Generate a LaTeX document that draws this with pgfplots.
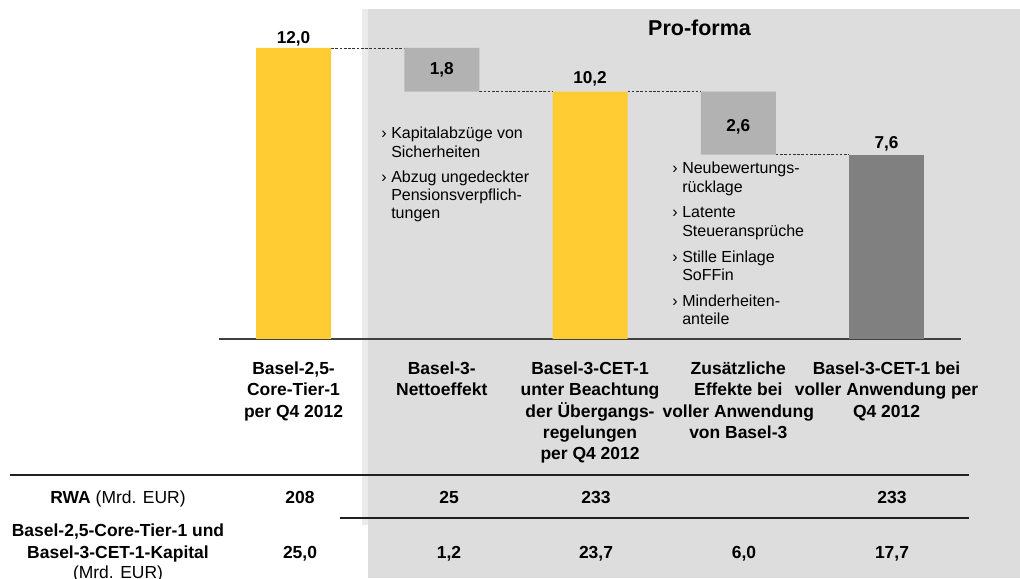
\documentclass[border=0pt]{standalone}
\usepackage{fontspec}
\setmainfont{Liberation Sans}
\usepackage{pgfplots}
\pgfplotsset{compat=1.18}
\definecolor{ygold}{HTML}{FFCC33}
\definecolor{panel}{HTML}{DDDDDD}
\definecolor{strip}{HTML}{EBEBEB}
\definecolor{boxgray}{HTML}{B2B2B2}
\definecolor{bargray}{HTML}{808080}
\definecolor{basecol}{HTML}{404040}
\definecolor{rulecol}{HTML}{202020}
\begin{document}
\begin{tikzpicture}[x=0.75pt,y=0.75pt,
  bul/.style={anchor=base west, inner sep=0, font=\fontsize{12}{14}\selectfont},
  tv/.style={anchor=base, inner sep=0, font=\fontsize{13.1}{16}\selectfont\bfseries},
  cat/.style={anchor=north, inner sep=0, align=center, font=\fontsize{13.1}{16}\selectfont\bfseries},
  bv/.style={anchor=base, inner sep=0, font=\fontsize{12.9}{15}\selectfont\bfseries}]
\useasboundingbox (0,0) rectangle (1020,578);
% background panel
\fill[panel] (368,0) rectangle (1020,578-9);
\fill[strip] (362,578-525) rectangle (368,578-9);
% title
\node[anchor=base, inner sep=0, font=\fontsize{16.1}{19}\selectfont\bfseries] at (699.5,578-36) {Pro-forma};
% table rules
\draw[line width=1.5pt, rulecol] (10,578-475) -- (969,578-475);
\draw[line width=1.5pt, rulecol] (340,578-518) -- (969,578-518);
% table rows
\node[anchor=base, inner sep=0, font=\fontsize{13.1}{16}\selectfont] at (118,578-503.5) {\textbf{RWA} (Mrd. EUR)};
\node[tv] at (118,578-537) {Basel-2,5-Core-Tier-1 und};
\node[tv] at (118,578-558) {Basel-3-CET-1-Kapital};
\node[anchor=base, inner sep=0, font=\fontsize{13.1}{16}\selectfont] at (118,578-578) {(Mrd. EUR)};
\node[tv] at (300,578-503.5) {208};
\node[tv] at (449,578-503.5) {25};
\node[tv] at (596,578-503.5) {233};
\node[tv] at (892,578-503.5) {233};
\node[tv] at (300,578-558.5) {25,0};
\node[tv] at (449,578-558.5) {1,2};
\node[tv] at (596,578-558.5) {23,7};
\node[tv] at (744,578-558.5) {6,0};
\node[tv] at (892,578-558.5) {17,7};
% bullet notes, group 1
\node[bul] at (381,578-139) {›};
\node[bul] at (391,578-139) {Kapitalabzüge von};
\node[bul] at (391,578-157.2) {Sicherheiten};
\node[bul] at (381,578-182.2) {›};
\node[bul] at (391,578-182.2) {Abzug ungedeckter};
\node[bul] at (391,578-200.5) {Pensionsverpflich-};
\node[bul] at (391,578-218.8) {tungen};
% bullet notes, group 2
\node[bul] at (672,578-173.8) {›};
\node[bul] at (682,578-173.8) {Neubewertungs-};
\node[bul] at (682,578-192.2) {rücklage};
\node[bul] at (672,578-217.8) {›};
\node[bul] at (682,578-217.8) {Latente};
\node[bul] at (682,578-236.2) {Steueransprüche};
\node[bul] at (672,578-262.2) {›};
\node[bul] at (682,578-262.2) {Stille Einlage};
\node[bul] at (682,578-280.5) {SoFFin};
\node[bul] at (672,578-306.2) {›};
\node[bul] at (682,578-306.2) {Minderheiten-};
\node[bul] at (682,578-324.8) {anteile};
\begin{axis}[at={(164.55pt,179.25pt)}, anchor=south west, scale only axis,
  width=555.94pt, height=218.25pt, xmin=-0.5, xmax=4.5, ymin=0, ymax=12,
  hide axis, clip=false, ybar stacked, bar width=56.25pt]
\addplot[draw=none, fill=none] coordinates {(0,0) (1,10.2) (2,0) (3,7.6) (4,0)};
\addplot[draw=none, fill=ygold] coordinates {(0,12) (1,0) (2,10.2) (3,0) (4,0)};
\addplot[draw=none, fill=boxgray] coordinates {(0,0) (1,1.8) (2,0) (3,2.6) (4,0)};
\addplot[draw=none, fill=bargray] coordinates {(0,0) (1,0) (2,0) (3,0) (4,7.6)};
% baseline
\draw[line width=1.5pt, basecol] (axis cs:-0.5,0) -- (axis cs:4.5,0);
% connectors
\draw[line width=0.6pt, black!80, dash pattern=on 2pt off 1.2pt] (axis cs:0.253,12) -- (axis cs:0.747,12);
\draw[line width=0.6pt, black!80, dash pattern=on 2pt off 1.2pt] (axis cs:1.253,10.2) -- (axis cs:1.747,10.2);
\draw[line width=0.6pt, black!80, dash pattern=on 2pt off 1.2pt] (axis cs:2.253,10.2) -- (axis cs:2.747,10.2);
\draw[line width=0.6pt, black!80, dash pattern=on 2pt off 1.2pt] (axis cs:3.253,7.6) -- (axis cs:3.747,7.6);
\coordinate (v0) at (axis cs:0,12);
\coordinate (v1) at (axis cs:1,10.2);
\coordinate (v2) at (axis cs:2,10.2);
\coordinate (v3) at (axis cs:3,7.6);
\coordinate (v4) at (axis cs:4,7.6);
% category labels
\node[cat, yshift=-16.9pt] at (axis cs:0,0) {Basel-2,5-\\Core-Tier-1\\per Q4 2012};
\node[cat, yshift=-16.9pt] at (axis cs:1,0) {Basel-3-\\Nettoeffekt};
\node[cat, yshift=-16.9pt] at (axis cs:2,0) {Basel-3-CET-1\\unter Beachtung\\der Übergangs-\\regelungen\\per Q4 2012};
\node[cat, yshift=-16.9pt] at (axis cs:3,0) {Zusätzliche\\Effekte bei\\voller Anwendung\\von Basel-3};
\node[cat, yshift=-16.9pt] at (axis cs:4,0) {Basel-3-CET-1 bei\\voller Anwendung per\\Q4 2012};
\end{axis}
% bar values (drawn on top of the bars)
\node[bv, yshift=3.2pt] at (v0) {12,0};
\node[bv, yshift=12.5pt] at (v1) {1,8};
\node[bv, yshift=6.3pt] at (v2) {10,2};
\node[bv, yshift=17.25pt] at (v3) {2,6};
\node[bv, yshift=4.8pt] at (v4) {7,6};
\end{tikzpicture}
\end{document}
